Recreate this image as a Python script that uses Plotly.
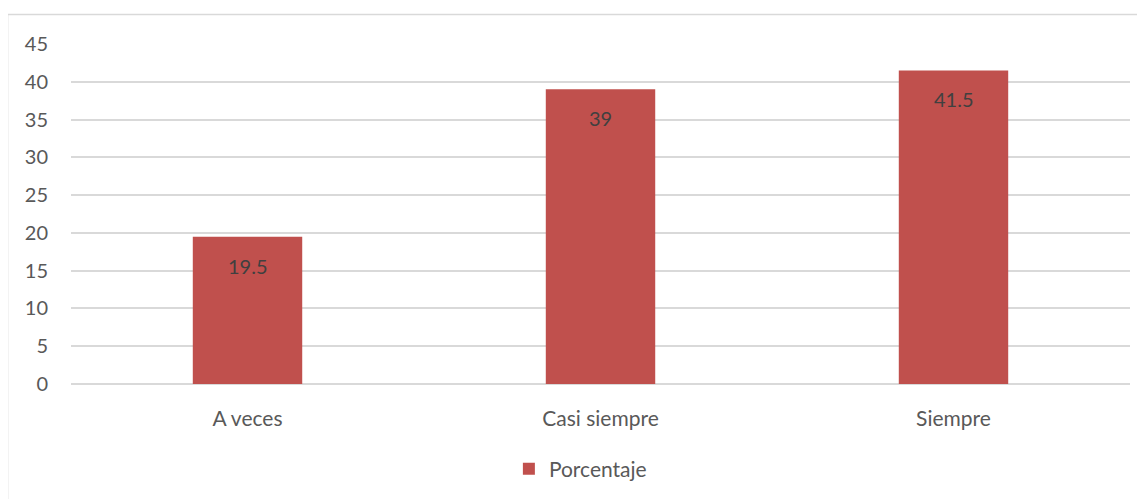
import plotly.graph_objects as go

categorias = ['A veces', 'Casi siempre', 'Siempre']
porcentaje = [19.5, 39, 41.5]
etiquetas = ['19.5', '39', '41.5']
y_ticks = [0, 5, 10, 15, 20, 25, 30, 35, 40, 45]

color_barra = '#C0504D'
color_texto = '#595959'
fuente = 'Lato, Open Sans, sans-serif'

fig = go.Figure()

fig.add_trace(go.Bar(
    x=categorias,
    y=porcentaje,
    name='Porcentaje',
    marker=dict(color=color_barra, line=dict(width=0)),
    width=0.31,
    showlegend=True,
))

# etiquetas de datos dentro de la barra, cerca del extremo
for cat, val, txt in zip(categorias, porcentaje, etiquetas):
    fig.add_annotation(
        x=cat, y=val, text=txt,
        showarrow=False, yshift=-29, yanchor='middle',
        font=dict(family=fuente, size=20, color='#404040'),
    )

# la página tiene 8px de margen en body, se compensa aquí
fig.update_layout(
    width=1145,
    height=499,
    margin=dict(l=63, r=23, t=36, b=123),
    paper_bgcolor='white',
    plot_bgcolor='white',
    font=dict(family=fuente, size=20, color=color_texto),
    showlegend=True,
    legend=dict(
        orientation='h', x=0.481, xanchor='center', y=-0.25, yanchor='middle',
        font=dict(family=fuente, size=21, color=color_texto),
        itemwidth=30,
    ),
)

fig.update_yaxes(
    range=[0, 45],
    tickvals=y_ticks,
    showgrid=True,
    gridcolor='#D9D9D9',
    gridwidth=1.5,
    zeroline=True,
    zerolinecolor='#D9D9D9',
    zerolinewidth=1.5,
    showline=False,
    ticks='',
    ticklabelstandoff=22,
    tickfont=dict(family=fuente, size=20, color=color_texto),
)
fig.update_xaxes(
    showline=False,
    ticks='',
    ticklabelstandoff=20,
    tickfont=dict(family=fuente, size=21, color=color_texto),
)

# borde del área del gráfico
fig.add_shape(
    type='rect', xref='paper', yref='paper',
    x0=-0.0599, x1=1.0132, y0=-0.4, y1=1.0868,
    line=dict(color='#D9D9D9', width=1.5),
    fillcolor='rgba(0,0,0,0)', layer='below',
)

fig.write_html('out.html')
